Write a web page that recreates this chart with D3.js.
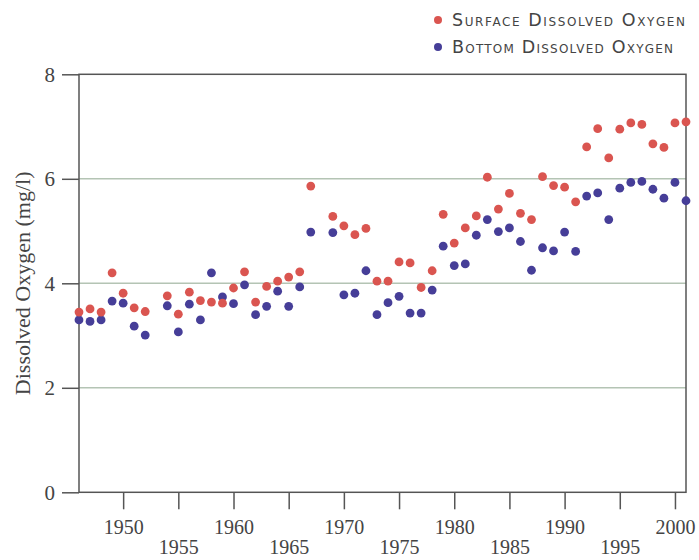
<!DOCTYPE html>
<html>
<head>
<meta charset="utf-8">
<script src="https://cdn.jsdelivr.net/npm/d3@7"></script>
<style>
  body { margin: 0; background: #fff; }
  svg text { fill: #444; }
</style>
</head>
<body>
<svg id="chart" width="699" height="560"></svg>
<script>
// Annual dissolved oxygen readings (mg/l)
const years = [1946, 1947, 1948, 1949, 1950, 1951, 1952, 1954, 1955, 1956,
  1957, 1958, 1959, 1960, 1961, 1962, 1963, 1964, 1965, 1966,
  1967, 1969, 1970, 1971, 1972, 1973, 1974, 1975, 1976, 1977,
  1978, 1979, 1980, 1981, 1982, 1983, 1984, 1985, 1986, 1987,
  1988, 1989, 1990, 1991, 1992, 1993, 1994, 1995, 1996, 1997,
  1998, 1999, 2000, 2001];

const surface = [3.45, 3.51, 3.45, 4.20, 3.81, 3.53, 3.46, 3.76, 3.41, 3.83,
  3.67, 3.64, 3.62, 3.91, 4.22, 3.64, 3.94, 4.04, 4.12, 4.22,
  5.86, 5.28, 5.10, 4.93, 5.05, 4.04, 4.04, 4.41, 4.39, 3.92,
  4.24, 5.32, 4.77, 5.06, 5.29, 6.03, 5.42, 5.72, 5.34, 5.22,
  6.04, 5.87, 5.84, 5.56, 6.61, 6.96, 6.40, 6.95, 7.07, 7.04,
  6.67, 6.60, 7.07, 7.09];

const bottom = [3.30, 3.27, 3.30, 3.66, 3.62, 3.18, 3.01, 3.57, 3.07, 3.60,
  3.30, 4.20, 3.74, 3.61, 3.97, 3.40, 3.56, 3.85, 3.56, 3.93,
  4.98, 4.97, 3.78, 3.81, 4.24, 3.40, 3.63, 3.75, 3.43, 3.43,
  3.87, 4.71, 4.34, 4.37, 4.92, 5.22, 4.99, 5.06, 4.80, 4.25,
  4.68, 4.62, 4.98, 4.61, 5.67, 5.73, 5.22, 5.82, 5.93, 5.95,
  5.80, 5.63, 5.93, 5.58];

const yTicks = [0, 2, 4, 6, 8];
const xTicks = [1950, 1955, 1960, 1965, 1970, 1975, 1980, 1985, 1990, 1995, 2000];
const seriesNames = ["Surface Dissolved Oxygen", "Bottom Dissolved Oxygen"];
const seriesColors = ["#da5550", "#463e98"];

const svg = d3.select("#chart");
const W = 699, H = 560;
const margin = { top: 74.3, right: 13, bottom: 67.7, left: 79 };
const serif = "'Liberation Serif', 'Times New Roman', serif";

const x = d3.scaleLinear().domain([1946, 2001]).range([margin.left, W - margin.right]);
const y = d3.scaleLinear().domain([0, 8]).range([H - margin.bottom, margin.top]);

// Horizontal gridlines
svg.append("g")
  .selectAll("line")
  .data(yTicks.filter(d => d > 0 && d < 8))
  .join("line")
  .attr("x1", x.range()[0]).attr("x2", x.range()[1])
  .attr("y1", d => y(d)).attr("y2", d => y(d))
  .attr("stroke", "#b4c4b4")
  .attr("stroke-width", 1.6);

// Plot frame
svg.append("rect")
  .attr("x", x.range()[0]).attr("y", y(8))
  .attr("width", x.range()[1] - x.range()[0])
  .attr("height", y(0) - y(8))
  .attr("fill", "none")
  .attr("stroke", "#555")
  .attr("stroke-width", 1.5);

// Y axis
const yAxis = svg.append("g")
  .attr("transform", `translate(${margin.left},0)`)
  .call(d3.axisLeft(y).tickValues(yTicks).tickSize(17).tickPadding(7).tickFormat(d3.format("d")));
yAxis.select(".domain").remove();
yAxis.selectAll(".tick line").attr("stroke", "#555").attr("stroke-width", 1.5);
yAxis.selectAll(".tick text")
  .attr("font-family", serif).attr("font-size", 21).attr("fill", "#444");

// X axis with staggered labels
const xAxis = svg.append("g")
  .attr("transform", `translate(0,${y(0)})`)
  .call(d3.axisBottom(x).tickValues(xTicks).tickSize(17).tickFormat(d3.format("d")));
xAxis.select(".domain").remove();
xAxis.selectAll(".tick line").attr("stroke", "#555").attr("stroke-width", 1.5);
xAxis.selectAll(".tick text")
  .attr("font-family", serif).attr("font-size", 20).attr("fill", "#444")
  .attr("y", (d, i) => i % 2 === 0 ? 35 : 55)
  .attr("dy", "0.35em");

// Y axis title
svg.append("text")
  .attr("transform", `translate(22,${(y(0) + y(8)) / 2}) rotate(-90)`)
  .attr("text-anchor", "middle")
  .attr("dy", "0.35em")
  .attr("font-family", serif)
  .attr("font-size", 22)
  .text("Dissolved Oxygen (mg/l)");

// Points: bottom series first, surface drawn on top
const series = [
  { name: seriesNames[1], values: bottom, color: seriesColors[1] },
  { name: seriesNames[0], values: surface, color: seriesColors[0] }
];
series.forEach(s => {
  svg.append("g")
    .selectAll("circle")
    .data(years.map((yr, i) => ({ yr, v: s.values[i] })))
    .join("circle")
    .attr("cx", d => x(d.yr))
    .attr("cy", d => y(d.v))
    .attr("r", 4.4)
    .attr("fill", s.color);
});

// Legend
const legendWidths = [233, 221];
const legend = svg.append("g");
seriesNames.forEach((name, i) => {
  const cy = 20 + i * 27;
  legend.append("circle")
    .attr("cx", 438).attr("cy", cy).attr("r", 4)
    .attr("fill", seriesColors[i]);
  legend.append("text")
    .attr("x", 452).attr("y", cy + 6.4)
    .attr("font-family", "'DejaVu Sans', Lato, sans-serif")
    .attr("font-size", 17.5)
    .attr("textLength", legendWidths[i])
    .attr("lengthAdjust", "spacing")
    .style("font-variant", "small-caps")
    .attr("fill", "#444")
    .text(name);
});
</script>
</body>
</html>
